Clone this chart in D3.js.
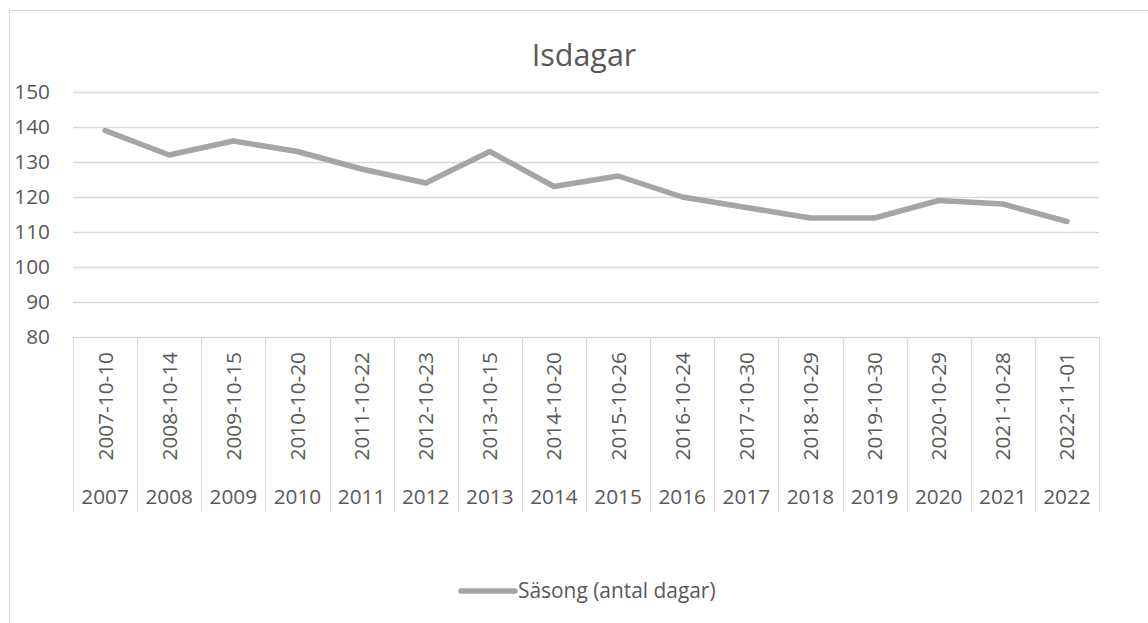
<!DOCTYPE html>
<html>
<head>
<meta charset="utf-8">
<script src="https://cdn.jsdelivr.net/npm/d3@7"></script>
<style>
  body { margin: 0; background: #fff; }
  text { font-family: "Open Sans", "Noto Sans", sans-serif; fill: #595959; }
</style>
</head>
<body>
<div id="chart"></div>
<script>
// data
const years = ["2007", "2008", "2009", "2010", "2011", "2012", "2013", "2014",
  "2015", "2016", "2017", "2018", "2019", "2020", "2021", "2022"];
const dates = ["2007-10-10", "2008-10-14", "2009-10-15", "2010-10-20", "2011-10-22",
  "2012-10-23", "2013-10-15", "2014-10-20", "2015-10-26", "2016-10-24", "2017-10-30",
  "2018-10-29", "2019-10-30", "2020-10-29", "2021-10-28", "2022-11-01"];
const days = [139, 132, 136, 133, 128, 124, 133, 123, 126, 120, 117, 114, 114, 119, 118, 113];
const yTicks = [80, 90, 100, 110, 120, 130, 140, 150];
const title = "Isdagar";
const seriesName = "Säsong (antal dagar)";

const width = 1148, height = 623;
const plot = { left: 73, right: 1099, top: 92, bottom: 337 };
const lineColor = "#a5a5a5", gridColor = "#d9d9d9";
const labelSize = 20.8;

const svg = d3.select("#chart").append("svg")
  .attr("width", width).attr("height", height);

// chart frame (cropped on right and bottom)
svg.append("rect")
  .attr("x", 9.5).attr("y", 10.5)
  .attr("width", 1200).attr("height", 700)
  .attr("fill", "#fff").attr("stroke", gridColor);

svg.append("text")
  .attr("x", 584).attr("y", 66)
  .attr("text-anchor", "middle")
  .attr("font-size", 30.5)
  .text(title);

const x = d3.scaleBand().domain(d3.range(years.length))
  .range([plot.left, plot.right]);
const y = d3.scaleLinear().domain([80, 150])
  .range([plot.bottom, plot.top]);

// gridlines
svg.append("g").selectAll("line")
  .data(yTicks.filter(d => d > 80))
  .join("line")
  .attr("x1", plot.left).attr("x2", plot.right)
  .attr("y1", d => Math.round(y(d)) + 0.5).attr("y2", d => Math.round(y(d)) + 0.5)
  .attr("stroke", gridColor).attr("stroke-width", 1.3);

// y axis labels
svg.append("g").selectAll("text")
  .data(yTicks)
  .join("text")
  .attr("x", 50).attr("y", d => y(d))
  .attr("dy", "0.35em")
  .attr("text-anchor", "end")
  .attr("font-size", labelSize)
  .text(d => d);

// category axis: baseline and separators
const axisBottom = 512;
svg.append("line")
  .attr("x1", plot.left).attr("x2", plot.right)
  .attr("y1", Math.round(y(80)) + 0.5).attr("y2", Math.round(y(80)) + 0.5)
  .attr("stroke", gridColor).attr("stroke-width", 1.3);

const seps = d3.range(years.length + 1).map(i => i < years.length ? x(i) : plot.right);
svg.append("g").selectAll("line")
  .data(seps)
  .join("line")
  .attr("x1", d => Math.round(d) + 0.5).attr("x2", d => Math.round(d) + 0.5)
  .attr("y1", plot.bottom).attr("y2", axisBottom)
  .attr("stroke", gridColor).attr("stroke-width", 1.3);

// rotated date labels
svg.append("g").selectAll("text")
  .data(dates)
  .join("text")
  .attr("transform", (d, i) => `translate(${x(i) + x.bandwidth() / 2 + 7.5},${plot.bottom + 15}) rotate(-90)`)
  .attr("text-anchor", "end")
  .attr("font-size", labelSize)
  .text(d => d);

// year labels
svg.append("g").selectAll("text")
  .data(years)
  .join("text")
  .attr("x", (d, i) => x(i) + x.bandwidth() / 2)
  .attr("y", 504)
  .attr("text-anchor", "middle")
  .attr("font-size", labelSize)
  .text(d => d);

// series line
const line = d3.line()
  .x((d, i) => x(i) + x.bandwidth() / 2)
  .y(d => y(d));

svg.append("path")
  .datum(days)
  .attr("d", line)
  .attr("fill", "none")
  .attr("stroke", lineColor)
  .attr("stroke-width", 5.5)
  .attr("stroke-linejoin", "round")
  .attr("stroke-linecap", "round");

// legend
const legend = svg.append("g").attr("transform", "translate(461,591)");
legend.append("line")
  .attr("x1", 0).attr("x2", 54)
  .attr("stroke", lineColor).attr("stroke-width", 5.5)
  .attr("stroke-linecap", "round");
legend.append("text")
  .attr("x", 57).attr("dy", "0.35em")
  .attr("font-size", 20.9)
  .text(seriesName);
</script>
</body>
</html>
